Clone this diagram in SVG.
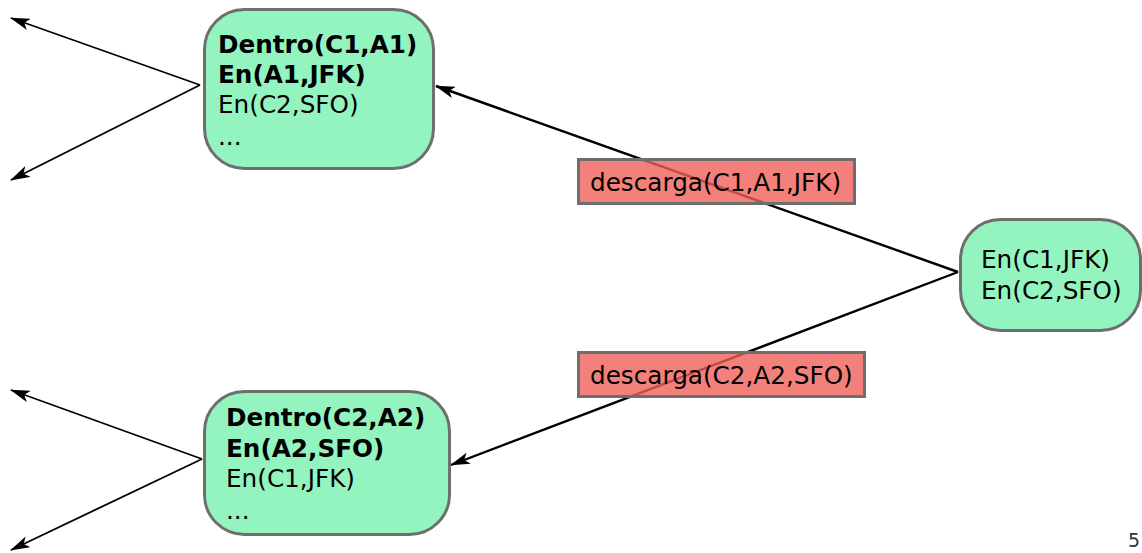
<svg xmlns="http://www.w3.org/2000/svg" width="1142" height="553" viewBox="0 0 1142 553">
<style>
.node{fill:#93f4c0;stroke:#6e6e6e;stroke-width:3}
.t{font-family:"DejaVu Sans",sans-serif;font-size:24.7px;fill:#000}
.b{font-weight:bold}
.edge{stroke:#000;stroke-width:2.4;fill:none}
.thin{stroke:#000;stroke-width:1.8;fill:none}
.lab{fill:#f0605a;fill-opacity:0.8;stroke:#6e6e6e;stroke-width:3}
</style>
<defs>
<marker id="ah" viewBox="0 0 20 12" refX="19" refY="6" markerWidth="20" markerHeight="12" markerUnits="userSpaceOnUse" orient="auto">
<path d="M0,0 L20,6 L0,12 L5,6 Z" fill="#000"/>
</marker>
</defs>
<g id="connectors">
<line class="edge" x1="958" y1="272" x2="436" y2="86" marker-end="url(#ah)"/>
<line class="edge" x1="958" y1="272" x2="451" y2="465" marker-end="url(#ah)"/>
<line class="thin" x1="200" y1="85" x2="11" y2="18" marker-end="url(#ah)"/>
<line class="thin" x1="200" y1="85" x2="11" y2="180" marker-end="url(#ah)"/>
<line class="thin" x1="202" y1="459" x2="11" y2="390" marker-end="url(#ah)"/>
<line class="thin" x1="202" y1="459" x2="11" y2="550" marker-end="url(#ah)"/>
</g>
<g id="label1">
<rect class="lab" x="578.5" y="159.5" width="276" height="44"/>
<text class="t" x="590" y="191">descarga(C1,A1,JFK)</text>
</g>
<g id="label2">
<rect class="lab" x="578.5" y="352.5" width="286" height="44"/>
<text class="t" x="590" y="384">descarga(C2,A2,SFO)</text>
</g>
<g id="node-top">
<rect class="node" x="204.5" y="9.5" width="229" height="159" rx="40" ry="40"/>
<text class="t b" x="218" y="53">Dentro(C1,A1)</text>
<text class="t b" x="218" y="83">En(A1,JFK)</text>
<text class="t" x="218" y="113">En(C2,SFO)</text>
<text class="t" x="218" y="145">...</text>
</g>
<g id="node-bottom">
<rect class="node" x="204.5" y="391.5" width="245" height="143" rx="40" ry="40"/>
<text class="t b" x="226" y="426">Dentro(C2,A2)</text>
<text class="t b" x="226" y="457">En(A2,SFO)</text>
<text class="t" x="226" y="487">En(C1,JFK)</text>
<text class="t" x="226" y="519">...</text>
</g>
<g id="node-right">
<rect class="node" x="960.5" y="219.5" width="180" height="111" rx="40" ry="40"/>
<text class="t" x="981" y="268">En(C1,JFK)</text>
<text class="t" x="981" y="299">En(C2,SFO)</text>
</g>
<text x="1128" y="547" style="font-family:'DejaVu Sans',sans-serif;font-size:19px;fill:#333">5</text>
</svg>
